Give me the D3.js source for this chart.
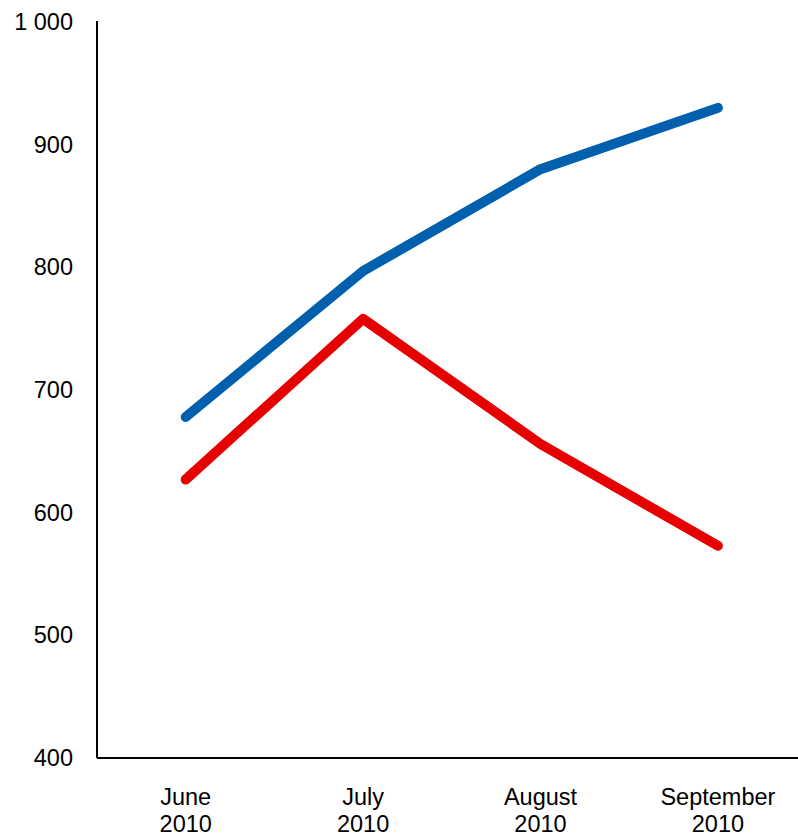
<!DOCTYPE html>
<html>
<head>
<meta charset="utf-8">
<script src="https://cdn.jsdelivr.net/npm/d3@7"></script>
<style>
	body { margin: 0; background: #fff; }
	svg text { font-family: "Liberation Sans", Arial, sans-serif; font-size: 23.5px; fill: #000; }
</style>
</head>
<body>
<svg id="chart" width="798" height="838" viewBox="0 0 798 838"></svg>
<script>
const months = ["June", "July", "August", "September"];
const years = ["2010", "2010", "2010", "2010"];
const blue_values = [678, 797, 880, 930];
const red_values = [627, 758, 656, 573];
const y_ticks = [400, 500, 600, 700, 800, 900, 1000];

const svg = d3.select("#chart");

const plot_left = 97, plot_top = 22, plot_bottom = 758;

let x = d3.scaleBand()
	.domain(months)
	.range([plot_left, plot_left + 4 * 177.4])
	.padding(0);

let y = d3.scaleLinear()
	.domain([400, 1000])
	.range([plot_bottom, plot_top]);

// y axis, thousands separated by a space
const yAxis = svg.append("g")
	.attr("transform", `translate(${plot_left},0)`)
	.call(d3.axisLeft(y).tickValues(y_ticks).tickSize(0).tickPadding(24)
		.tickFormat(d => d3.format(",")(d).replace(",", " ")));
yAxis.select(".domain").attr("stroke", "#000").attr("stroke-width", 2).attr("d", `M0,${plot_top - 1}V${plot_bottom}`);

// x axis, labels on two lines
const xAxis = svg.append("g")
	.attr("transform", `translate(0,${plot_bottom})`)
	.call(d3.axisBottom(x).tickSize(0).tickFormat(""));
xAxis.select(".domain").attr("stroke", "#000").attr("stroke-width", 2).attr("d", `M${plot_left},0H798`);

xAxis.selectAll(".tick text").remove();
xAxis.selectAll(".tick").each(function(d, i) {
	const t = d3.select(this).append("text")
		.attr("text-anchor", "middle")
		.attr("y", 47);
	t.append("tspan").attr("x", 0).text(d);
	t.append("tspan").attr("x", 0).attr("dy", 27).text(years[i]);
});

const line = d3.line()
	.x((d, i) => x(months[i]) + x.bandwidth() / 2)
	.y(d => y(d));

svg.append("path")
	.datum(red_values)
	.attr("d", line)
	.attr("fill", "none")
	.attr("stroke", "#E60000")
	.attr("stroke-width", 10)
	.attr("stroke-linecap", "round")
	.attr("stroke-linejoin", "round");

svg.append("path")
	.datum(blue_values)
	.attr("d", line)
	.attr("fill", "none")
	.attr("stroke", "#0060AD")
	.attr("stroke-width", 10)
	.attr("stroke-linecap", "round")
	.attr("stroke-linejoin", "round");
</script>
</body>
</html>
